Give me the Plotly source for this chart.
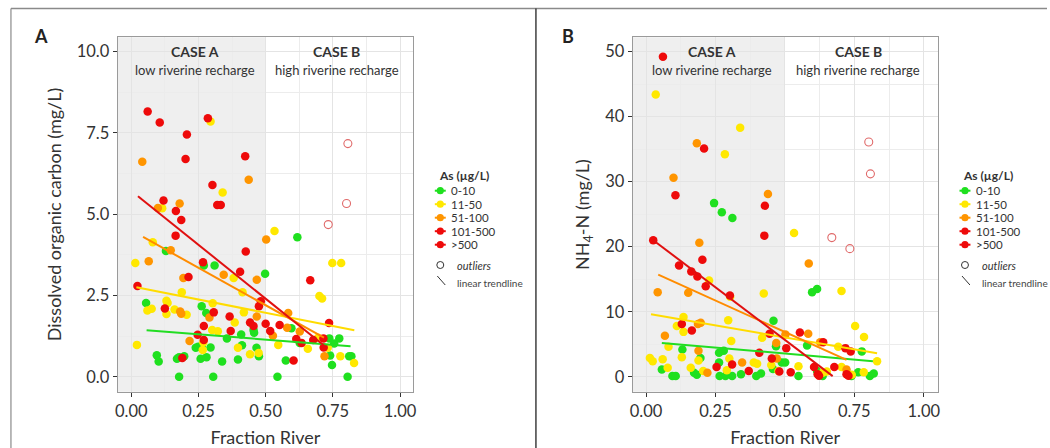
import plotly.graph_objects as go

# ---------------- data ----------------
# Panel A: dissolved organic carbon (mg/L) vs fraction river
A_green_x = [0.129, 0.270, 0.310, 0.498, 0.618, 0.055, 0.262, 0.279, 0.455, 0.457, 0.409, 0.356, 0.240, 0.249,
             0.262, 0.295, 0.095, 0.102, 0.170, 0.178, 0.197, 0.258, 0.280, 0.338, 0.397, 0.466, 0.475, 0.412,
             0.178, 0.305, 0.544, 0.805, 0.575, 0.596, 0.627, 0.737, 0.755, 0.774, 0.740, 0.747, 0.811, 0.819]
A_green_y = [3.87, 3.42, 3.42, 3.17, 4.29, 2.27, 2.17, 1.96, 1.44, 1.35, 1.30, 1.18, 0.89, 0.92,
             0.92, 0.90, 0.66, 0.47, 0.55, 0.60, 0.63, 0.55, 0.60, 0.47, 0.53, 0.89, 0.63, 0.97,
             0.0, 0.0, 0.0, 0.0, 0.50, 1.49, 1.04, 1.18, 1.02, 1.18, 0.65, 0.36, 0.63, 0.63]

A_yellow_x = [0.295, 0.340, 0.115, 0.533, 0.080, 0.015, 0.188, 0.131, 0.135, 0.060, 0.076, 0.303, 0.381,
              0.414, 0.419, 0.385, 0.301, 0.322, 0.021, 0.268, 0.397, 0.442, 0.474, 0.547, 0.657, 0.700,
              0.710, 0.748, 0.781, 0.778, 0.829, 0.206, 0.131, 0.731, 0.161, 0.695, 0.266]
A_yellow_y = [7.85, 5.67, 5.18, 4.48, 4.14, 3.50, 2.60, 2.34, 2.27, 2.04, 2.09, 2.26, 3.04,
              2.60, 1.98, 1.67, 1.44, 1.40, 0.98, 1.06, 0.89, 0.69, 0.73, 0.98, 0.86, 2.48,
              2.41, 3.50, 3.50, 0.63, 0.42, 1.91, 1.93, 0.89, 2.07, 1.20, 0.82]

A_orange_x = [0.041, 0.437, 0.180, 0.099, 0.502, 0.065, 0.147, 0.344, 0.467, 0.194, 0.182, 0.186, 0.217,
              0.467, 0.584, 0.580, 0.627, 0.719, 0.527, 0.291]
A_orange_y = [6.61, 6.06, 5.33, 5.19, 4.22, 3.55, 3.89, 3.14, 2.98, 3.04, 2.01, 1.94, 1.10,
              1.85, 1.96, 1.51, 1.39, 0.63, 1.26, 1.82]

A_red_x = [0.061, 0.106, 0.285, 0.207, 0.202, 0.424, 0.302, 0.120, 0.320, 0.333, 0.166, 0.186, 0.165,
           0.426, 0.267, 0.213, 0.405, 0.023, 0.666, 0.125, 0.307, 0.366, 0.475, 0.482, 0.442, 0.455,
           0.500, 0.517, 0.552, 0.270, 0.370, 0.247, 0.270, 0.190, 0.604, 0.614, 0.634, 0.677, 0.716,
           0.736, 0.715]
A_red_y = [8.16, 7.82, 7.95, 7.45, 6.70, 6.78, 5.90, 5.42, 5.28, 5.28, 5.10, 4.82, 4.34,
           3.85, 3.52, 3.07, 3.23, 2.79, 2.97, 2.10, 1.98, 1.85, 2.17, 2.32, 1.67, 1.56,
           1.63, 1.41, 1.59, 1.56, 1.41, 1.29, 1.13, 0.58, 0.50, 1.16, 1.04, 1.13, 0.90,
           1.65, 1.18]

A_out_x = [0.806, 0.801, 0.733]
A_out_y = [7.17, 5.33, 4.68]

# trendline end points, panel A (green, yellow, orange, red)
A_trend_x = [[0.057, 0.816], [0.019, 0.830], [0.044, 0.717], [0.025, 0.723]]
A_trend_y = [[1.43, 0.94], [2.75, 1.43], [4.30, 1.20], [5.55, 0.92]]

# Panel B: NH4-N (mg/L) vs fraction river
B_green_x = [0.245, 0.273, 0.311, 0.598, 0.616, 0.459, 0.580, 0.468, 0.777, 0.131, 0.196, 0.057, 0.095,
             0.107, 0.173, 0.183, 0.263, 0.265, 0.286, 0.310, 0.342, 0.397, 0.414, 0.489, 0.501, 0.457,
             0.549, 0.616, 0.636, 0.740, 0.764, 0.806, 0.820, 0.263, 0.280]
B_green_y = [26.7, 25.3, 24.4, 13.0, 13.5, 8.6, 4.8, 4.7, 3.9, 4.2, 2.9, 1.1, 0.1,
             0.1, 0.6, 0.3, 2.2, 0.1, 0.1, 0.1, 0.4, 0.1, 0.5, 2.2, 2.2, 1.2,
             0.1, 0.9, 0.1, 0.1, 0.7, 0.1, 0.5, 3.7, 4.0]

B_yellow_x = [0.035, 0.339, 0.284, 0.533, 0.424, 0.704, 0.303, 0.227, 0.753, 0.785, 0.135, 0.111, 0.135,
              0.296, 0.418, 0.307, 0.081, 0.129, 0.014, 0.024, 0.060, 0.078, 0.161, 0.189, 0.300, 0.388,
              0.400, 0.451, 0.477, 0.549, 0.692, 0.636, 0.704, 0.784, 0.832, 0.291, 0.206, 0.741, 0.651]
B_yellow_y = [43.4, 38.3, 34.2, 22.1, 12.8, 13.2, 12.3, 14.8, 7.8, 6.1, 9.2, 7.8, 6.9,
              8.7, 6.0, 5.5, 4.6, 3.0, 2.9, 2.4, 2.7, 1.4, 1.4, 2.5, 2.8, 2.2,
              2.0, 1.8, 0.9, 1.6, 4.6, 0.6, 1.5, 0.7, 2.4, 1.0, 0.9, 0.3, 0.8]

B_orange_x = [0.183, 0.099, 0.439, 0.192, 0.586, 0.042, 0.152, 0.068, 0.197, 0.189, 0.469, 0.502, 0.584,
              0.627, 0.346, 0.221, 0.471, 0.722, 0.187]
B_orange_y = [35.9, 30.6, 28.1, 20.6, 17.4, 13.0, 12.9, 6.3, 8.3, 4.0, 5.2, 6.5, 6.6,
              5.3, 2.2, 0.6, 2.8, 1.1, 8.1]

B_red_x = [0.061, 0.209, 0.106, 0.428, 0.426, 0.026, 0.203, 0.119, 0.163, 0.185, 0.215, 0.302, 0.129,
           0.165, 0.445, 0.554, 0.505, 0.638, 0.718, 0.737, 0.408, 0.453, 0.310, 0.254, 0.370, 0.480,
           0.521, 0.605, 0.618, 0.678, 0.722, 0.729, 0.623]
B_red_y = [49.2, 35.1, 27.9, 26.3, 21.7, 21.0, 18.0, 17.1, 16.2, 15.4, 13.9, 12.5, 8.1,
           7.1, 6.6, 6.8, 4.4, 5.3, 4.4, 3.9, 3.7, 2.8, 1.9, 1.5, 0.9, 0.8,
           0.7, 1.5, 0.4, 1.5, 0.4, 0.15, 0.15]

B_out_x = [0.802, 0.808, 0.669, 0.734]
B_out_y = [36.1, 31.2, 21.4, 19.7]

B_trend_x = [[0.057, 0.817], [0.018, 0.832], [0.044, 0.722], [0.026, 0.672]]
B_trend_y = [[5.2, 2.4], [9.6, 3.6], [15.7, 2.6], [21.0, 0.1]]

legend_labels = ["0-10", "11-50", "51-100", "101-500", ">500"]
x_ticks = [0.0, 0.25, 0.5, 0.75, 1.0]
A_y_ticks = [0.0, 2.5, 5.0, 7.5, 10.0]
B_y_ticks = [0, 10, 20, 30, 40, 50]

# ---------------- styles ----------------
GREEN, YELLOW, ORANGE, RED = "#1fe01f", "#ffe800", "#ff9500", "#ee0a0a"
LINE_COLORS = ["#22dd22", "#ffdc00", "#ff8c00", "#e01010"]
KEY_COLORS = [GREEN, YELLOW, ORANGE, RED, RED]
OUT_COLOR = "#e06a6a"
FONT = "Lato"
TXT = "#333333"
W, H = 1050, 448


def px(x):
    return x / W


def py(y):
    return 1 - y / H


fig = go.Figure()

panels = [
    ("x", "y", [(A_green_x, A_green_y, GREEN), (A_yellow_x, A_yellow_y, YELLOW),
                (A_orange_x, A_orange_y, ORANGE), (A_red_x, A_red_y, RED)],
     A_out_x, A_out_y, A_trend_x, A_trend_y),
    ("x2", "y2", [(B_green_x, B_green_y, GREEN), (B_yellow_x, B_yellow_y, YELLOW),
                  (B_orange_x, B_orange_y, ORANGE), (B_red_x, B_red_y, RED)],
     B_out_x, B_out_y, B_trend_x, B_trend_y),
]

for xa, ya, groups, ox, oy, tx, ty in panels:
    for gx, gy, col in groups:
        fig.add_trace(go.Scatter(x=gx, y=gy, mode="markers", xaxis=xa, yaxis=ya, showlegend=False,
                                 marker=dict(size=8.5, color=col, line=dict(width=0)),
                                 hoverinfo="x+y"))
    fig.add_trace(go.Scatter(x=ox, y=oy, mode="markers", xaxis=xa, yaxis=ya, showlegend=False,
                             marker=dict(size=8, symbol="circle-open", color=OUT_COLOR,
                                         line=dict(width=1.1, color=OUT_COLOR))))
    for lx, ly, lc in zip(tx, ty, LINE_COLORS):
        fig.add_trace(go.Scatter(x=lx, y=ly, mode="lines", xaxis=xa, yaxis=ya, showlegend=False,
                                 line=dict(color=lc, width=2), hoverinfo="skip"))

ydom = [py(391.7), py(37.3)]
axis_common = dict(showline=True, linecolor="#9a9a9a", linewidth=1, mirror=True,
                   ticks="outside", ticklen=4, tickcolor="#333333", tickwidth=1,
                   showgrid=True, gridcolor="#e4e4e4", gridwidth=1, zeroline=False,
                   tickfont=dict(family=FONT, size=16.5, color=TXT),
                   title_font=dict(family=FONT, size=18, color=TXT))

fig.update_layout(
    width=W, height=H, margin=dict(l=0, r=0, t=0, b=0),
    paper_bgcolor="white", plot_bgcolor="white", showlegend=False,
    xaxis=dict(domain=[px(115.3), px(412.7)], range=[-0.0507, 1.0496], tickvals=x_ticks,
               tickformat=".2f", anchor="y", title=dict(text="Fraction River", standoff=11),
               minor=dict(dtick=0.125, tick0=0, showgrid=True, gridcolor="#ececec", gridwidth=1),
               **axis_common),
    yaxis=dict(domain=ydom, range=[-0.46, 10.44], tickvals=A_y_ticks, tickformat=".1f", anchor="x",
               title=dict(text="Dissolved organic carbon (mg/L)", standoff=10),
               minor=dict(dtick=1.25, tick0=0, showgrid=True, gridcolor="#ececec", gridwidth=1),
               **axis_common),
    xaxis2=dict(domain=[px(633.3), px(940)], range=[-0.048, 1.050], tickvals=x_ticks,
                tickformat=".2f", anchor="y2", title=dict(text="Fraction River", standoff=11),
                minor=dict(dtick=0.125, tick0=0, showgrid=True, gridcolor="#ececec", gridwidth=1),
                **axis_common),
    yaxis2=dict(domain=ydom, range=[-2.3, 52.2], tickvals=B_y_ticks, anchor="x2",
                title=dict(text="NH<sub>4</sub>-N (mg/L)", standoff=10),
                minor=dict(dtick=5, tick0=0, showgrid=True, gridcolor="#ececec", gridwidth=1),
                **axis_common),
)

shapes = []
annotations = []

# shaded "case A" region and case labels
for xa, ya, ytop in [("x", "y", 10.0), ("x2", "y2", 50.0)]:
    shapes.append(dict(type="rect", xref=xa, yref=f"{ya} domain", x0=-0.06, x1=0.5, y0=0, y1=1,
                       fillcolor="#efefef", line=dict(width=0), layer="below"))
    sub = ytop * 0.0565
    for cx, title, subt in [(0.237, "CASE A", "low riverine recharge"),
                            (0.765, "CASE B", "high riverine recharge")]:
        annotations.append(dict(x=cx, y=ytop, xref=xa, yref=ya, text=f"<b>{title}</b>", showarrow=False,
                                font=dict(family=FONT, size=14, color=TXT), yanchor="middle"))
        annotations.append(dict(x=cx, y=ytop - sub, xref=xa, yref=ya, text=subt, showarrow=False,
                                font=dict(family=FONT, size=13, color=TXT), yanchor="middle"))

# panel letters
for lx, letter in [(38, "A"), (568, "B")]:
    annotations.append(dict(x=px(lx), y=py(36), xref="paper", yref="paper", text=f"<b>{letter}</b>",
                            showarrow=False, font=dict(family=FONT, size=18, color="#222222"),
                            xanchor="center", yanchor="middle"))

# outer frame lines
shapes.append(dict(type="line", xref="paper", yref="paper", x0=px(8), x1=1, y0=py(8.5), y1=py(8.5),
                   line=dict(color="#8a8a8a", width=1.5)))
shapes.append(dict(type="line", xref="paper", yref="paper", x0=px(8), x1=px(8), y0=py(8.5), y1=0,
                   line=dict(color="#8a8a8a", width=1.2)))
shapes.append(dict(type="line", xref="paper", yref="paper", x0=px(536), x1=px(536), y0=py(8.5), y1=0,
                   line=dict(color="#222222", width=1.3)))

# manual legends
key_ys = [190.7, 204.2, 217.7, 231.2, 244.7]
for title_x in [437.3, 965.0]:
    kx = title_x + 2.5
    annotations.append(dict(x=px(title_x - 1), y=py(175), xref="paper", yref="paper",
                            text="<b>As (µg/L)</b>", showarrow=False, xanchor="left", yanchor="middle",
                            font=dict(family=FONT, size=12, color=TXT)))
    for ky, col, lab in zip(key_ys, KEY_COLORS, legend_labels):
        shapes.append(dict(type="line", xref="paper", yref="paper", x0=px(kx - 5.5), x1=px(kx + 5.5),
                           y0=py(ky), y1=py(ky), line=dict(color=col, width=2)))
        shapes.append(dict(type="circle", xref="paper", yref="paper", x0=px(kx - 3.6), x1=px(kx + 3.6),
                           y0=py(ky + 3.6), y1=py(ky - 3.6), fillcolor=col, line=dict(width=0)))
        annotations.append(dict(x=px(kx + 9), y=py(ky), xref="paper", yref="paper", text=lab,
                                showarrow=False, xanchor="left", yanchor="middle",
                                font=dict(family=FONT, size=11.5, color=TXT)))
    shapes.append(dict(type="circle", xref="paper", yref="paper", x0=px(kx - 3.5), x1=px(kx + 3.5),
                       y0=py(268.5), y1=py(261.5), line=dict(color="#333333", width=1)))
    annotations.append(dict(x=px(kx + 15), y=py(265), xref="paper", yref="paper", text="<i>outliers</i>",
                            showarrow=False, xanchor="left", yanchor="middle",
                            font=dict(family=FONT, size=11, color=TXT)))
    shapes.append(dict(type="line", xref="paper", yref="paper", x0=px(kx - 3), x1=px(kx + 5),
                       y0=py(276), y1=py(285), line=dict(color="#333333", width=1)))
    annotations.append(dict(x=px(kx + 15), y=py(283), xref="paper", yref="paper",
                            text="linear trendline", showarrow=False, xanchor="left", yanchor="middle",
                            font=dict(family=FONT, size=10, color="#444444")))

fig.update_layout(shapes=shapes, annotations=annotations)

fig.write_html("out.html", config={"displayModeBar": False},
               post_script="document.body.style.margin='0px';document.body.style.overflow='hidden';")
